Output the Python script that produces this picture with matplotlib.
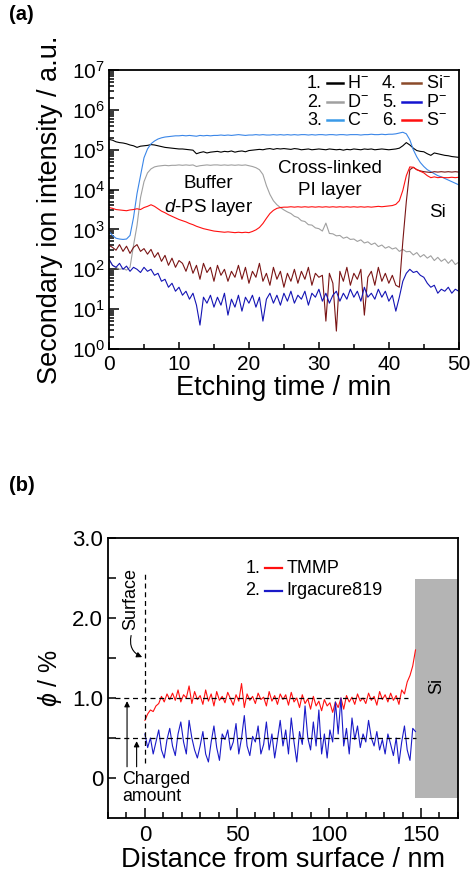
import matplotlib
matplotlib.use("Agg")
import matplotlib.pyplot as plt
from matplotlib.lines import Line2D
from matplotlib.ticker import FixedLocator, LogLocator, MultipleLocator, NullFormatter
import numpy as np

plt.rcParams["font.family"] = ["Liberation Sans", "DejaVu Sans"]
plt.rcParams["mathtext.fontset"] = "custom"
plt.rcParams["mathtext.rm"] = "Liberation Sans"
plt.rcParams["mathtext.it"] = "Liberation Sans:italic"

# ── (a) SIMS depth profile, log10(intensity) every 0.5 min ─────────────────────
etch_time = np.arange(0, 50.5, 0.5)

h_log = [5.26, 5.24, 5.20, 5.18, 5.17, 5.15, 5.12, 5.10, 5.06, 5.09, 5.10,
         5.11, 5.13, 5.12, 5.10, 5.08, 5.06, 5.05, 5.04, 5.03, 5.02,
         5.02, 5.01, 5.00, 4.99, 4.90, 4.93, 4.95, 4.92, 4.94, 4.95,
         4.96, 4.94, 4.96, 4.95, 4.97, 4.94, 4.96, 4.97, 4.95, 4.98,
         4.99, 5.00, 5.01, 5.00, 5.02, 5.03, 5.01, 5.03, 5.02, 5.03,
         5.02, 5.01, 5.03, 5.02, 5.00, 5.01, 5.02, 5.00, 5.01, 5.02,
         5.01, 5.00, 5.02, 5.01, 5.00, 5.01, 4.99, 5.01, 5.00, 5.02,
         5.01, 5.00, 5.02, 5.01, 5.02, 5.00, 5.01, 5.02, 5.01, 5.00,
         5.01, 5.02, 5.04, 5.10, 5.18, 5.12, 5.04, 4.98, 4.96, 4.95,
         4.90, 4.86, 4.92, 4.90, 4.88, 4.86, 4.85, 4.83, 4.82, 4.81]

d_log = [2.25, 2.10, 2.05, 2.00, 2.02, 1.98, 2.05, 2.60, 3.10, 3.80, 4.20,
         4.42, 4.52, 4.57, 4.59, 4.60, 4.61, 4.60, 4.61, 4.61, 4.62,
         4.61, 4.62, 4.61, 4.62, 4.58, 4.60, 4.61, 4.62, 4.61, 4.62,
         4.62, 4.61, 4.62, 4.61, 4.62, 4.61, 4.62, 4.61, 4.62, 4.60,
         4.58, 4.55, 4.50, 4.38, 4.10, 3.88, 3.72, 3.62, 3.55, 3.49,
         3.44, 3.40, 3.33, 3.30, 3.22, 3.20, 3.12, 3.11, 3.04, 3.02,
         2.96, 3.16, 2.90, 2.89, 2.84, 2.85, 2.78, 2.81, 2.75, 2.76,
         2.70, 2.74, 2.66, 2.69, 2.62, 2.66, 2.57, 2.61, 2.53, 2.57,
         2.51, 2.54, 2.45, 2.50, 2.44, 2.45, 2.36, 2.42, 2.31, 2.37,
         2.28, 2.34, 2.22, 2.30, 2.20, 2.26, 2.15, 2.24, 2.12, 2.18]

c_log = [2.95, 2.85, 2.78, 2.76, 2.75, 2.76, 2.85, 3.30, 3.90, 4.35, 4.80,
         5.02, 5.15, 5.22, 5.27, 5.30, 5.32, 5.33, 5.34, 5.35, 5.35,
         5.36, 5.35, 5.36, 5.35, 5.34, 5.36, 5.35, 5.36, 5.35, 5.36,
         5.36, 5.37, 5.36, 5.37, 5.36, 5.37, 5.38, 5.37, 5.36, 5.37,
         5.37, 5.38, 5.37, 5.38, 5.37, 5.37, 5.38, 5.37, 5.38, 5.37,
         5.38, 5.37, 5.38, 5.37, 5.38, 5.38, 5.37, 5.38, 5.37, 5.38,
         5.38, 5.37, 5.38, 5.38, 5.37, 5.38, 5.38, 5.37, 5.38, 5.38,
         5.38, 5.37, 5.38, 5.38, 5.39, 5.38, 5.38, 5.39, 5.38, 5.39,
         5.39, 5.40, 5.42, 5.44, 5.40, 5.25, 5.00, 4.82, 4.68, 4.58,
         4.50, 4.45, 4.40, 4.35, 4.32, 4.28, 4.24, 4.20, 4.16, 4.12]

si_log = [2.60, 2.55, 2.48, 2.62, 2.45, 2.58, 2.40, 2.55, 2.62, 2.45, 2.52,
          2.38, 2.50, 2.30, 2.42, 2.20, 2.35, 2.10, 2.28, 2.05, 2.22,
          2.15, 1.95, 2.20, 1.90, 2.10, 1.75, 2.15, 1.92, 2.05, 1.70,
          2.10, 1.85, 2.00, 1.70, 1.95, 1.80, 2.10, 1.75, 2.05, 1.65,
          1.95, 1.80, 2.15, 1.70, 1.90, 1.60, 2.05, 1.75, 1.95, 1.55,
          1.90, 1.70, 2.00, 1.65, 1.95, 1.75, 2.05, 1.60, 1.90, 1.80,
          1.85, 0.70, 1.90, 1.65, 0.45, 1.95, 1.70, 2.05, 1.60, 1.90,
          1.75, 2.00, 0.85, 1.80, 1.95, 1.60, 2.05, 1.70, 1.90, 1.65,
          1.85, 1.60, 1.55, 2.70, 3.70, 4.50, 4.56, 4.50, 4.47, 4.45,
          4.44, 4.43, 4.45, 4.44, 4.45, 4.44, 4.45, 4.44, 4.45, 4.44]

p_log = [2.25, 2.10, 2.05, 2.15, 2.00, 2.08, 1.95, 2.05, 2.00, 1.92, 2.05,
         1.95, 2.00, 1.85, 1.90, 1.70, 1.75, 1.55, 1.65, 1.45, 1.55,
         1.35, 1.45, 1.25, 1.40, 1.10, 0.60, 1.30, 1.15, 1.35, 1.05,
         1.30, 1.10, 1.40, 0.85, 1.25, 1.05, 1.35, 0.95, 1.30, 1.15,
         1.35, 1.05, 1.30, 0.70, 1.25, 1.40, 1.15, 1.35, 1.10, 1.40,
         1.20, 1.45, 1.15, 1.35, 1.25, 1.45, 1.10, 1.40, 1.30, 1.50,
         1.20, 1.40, 1.15, 1.35, 1.45, 1.20, 1.40, 1.25, 1.50, 1.30,
         1.45, 1.20, 1.55, 1.30, 1.40, 1.25, 1.50, 1.30, 1.45, 1.20,
         1.35, 0.95, 1.30, 1.70, 1.90, 2.00, 1.92, 1.95, 1.85, 1.80,
         1.65, 1.55, 1.60, 1.40, 1.50, 1.45, 1.55, 1.40, 1.50, 1.45]

s_log = [3.55, 3.53, 3.50, 3.49, 3.48, 3.47, 3.49, 3.50, 3.52, 3.50, 3.55,
         3.58, 3.62, 3.58, 3.52, 3.46, 3.42, 3.37, 3.33, 3.29, 3.25,
         3.22, 3.19, 3.15, 3.12, 3.08, 3.05, 3.02, 3.00, 2.98, 2.96,
         2.95, 2.94, 2.93, 2.94, 2.93, 2.92, 2.93, 2.92, 2.93, 2.92,
         2.95, 2.99, 3.05, 3.15, 3.28, 3.40, 3.48, 3.53, 3.55, 3.56,
         3.56, 3.57, 3.56, 3.57, 3.56, 3.57, 3.56, 3.57, 3.56, 3.57,
         3.56, 3.57, 3.56, 3.57, 3.56, 3.57, 3.56, 3.57, 3.56, 3.57,
         3.56, 3.57, 3.56, 3.57, 3.56, 3.57, 3.58, 3.57, 3.58, 3.59,
         3.60, 3.63, 3.72, 3.98, 4.35, 4.57, 4.56, 4.50, 4.46, 4.42,
         4.35, 4.30, 4.32, 4.30, 4.31, 4.30, 4.30, 4.31, 4.30, 4.31]

ions = ["H", "D", "C", "Si", "P", "S"]
ion_logs = [h_log, d_log, c_log, si_log, p_log, s_log]
ion_colors = ["black", "#a0a0a0", "#3a86e8", "#7a1515", "#1414b4", "#ff1010"]
legend_colors = ["black", "#a0a0a0", "#3a9ae8", "#8b4a2a", "#1414d0", "#ff1010"]

# ── (b) depth profile of photo-acid generators ────────────────────────────────
depth = np.arange(0, 148, 1.5)

tmmp = [0.72, 0.80, 0.85, 0.83, 0.90, 0.93, 1.02, 0.95, 1.05, 0.98,
        1.06, 0.97, 1.10, 0.95, 1.04, 1.00, 1.15, 0.93, 1.08, 0.98,
        1.03, 0.92, 1.10, 0.96, 1.05, 0.90, 1.08, 0.97, 1.02, 0.94,
        1.07, 0.99, 0.91, 1.04, 0.96, 1.18, 0.88, 1.05, 0.97, 1.02,
        0.93, 1.06, 0.98, 1.01, 0.90, 1.08, 0.96, 1.03, 0.92, 1.05,
        0.98, 1.04, 0.91, 1.07, 0.95, 1.00, 0.88, 1.04, 0.93, 0.99,
        0.86, 1.02, 0.90, 0.96, 0.84, 0.98, 0.90, 0.94, 0.82, 0.95,
        0.88, 1.00, 0.86, 1.03, 0.95, 1.01, 0.92, 1.05, 0.96, 1.00,
        0.93, 1.06, 0.97, 1.02, 0.91, 1.08, 0.98, 1.04, 0.95, 1.06,
        0.97, 1.03, 0.92, 1.10, 1.05, 1.20, 1.28, 1.40, 1.60]

irgacure = [0.55, 0.38, 0.50, 0.30, 0.45, 0.60, 0.35, 0.25, 0.48, 0.62,
            0.40, 0.28, 0.55, 0.70, 0.45, 0.30, 0.72, 0.50, 0.35, 0.25,
            0.40, 0.58, 0.30, 0.20, 0.45, 0.65, 0.38, 0.22, 0.55, 0.48,
            0.60, 0.35, 0.45, 0.68, 0.30, 0.50, 0.78, 0.40, 0.28, 0.52,
            0.45, 0.65, 0.30, 0.42, 0.70, 0.35, 0.55, 0.25, 0.48, 0.72,
            0.40, 0.60, 0.30, 0.75, 0.45, 0.20, 0.58, 0.42, 0.90, 0.50,
            0.35, 0.70, 0.40, 0.85, 0.30, 0.55, 0.25, 0.60, 0.45, 0.95,
            0.55, 1.00, 0.40, 0.62, 0.30, 0.75, 0.48, 0.65, 0.38, 0.55,
            0.45, 0.72, 0.50, 0.40, 0.58, 0.35, 0.48, 0.30, 0.55, 0.42,
            0.28, 0.50, 0.18, 0.45, 0.65, 0.35, 0.22, 0.62, 0.58]

si_region = (146.6, 170, -0.25, 2.48)   # x0, x1, y0, y1
charged_levels = [1.0, 0.5]


fig = plt.figure(figsize=(4.72, 8.76), dpi=100)

# ── panel (a) ────────────────────────────────────────────────────────────────
ax = fig.add_axes([0.231, 0.6016, 0.741, 0.3184])
for vals, col in zip(ion_logs, ion_colors):
    ax.plot(etch_time, 10 ** np.asarray(vals), color=col, lw=0.8)
ax.set_yscale("log")
ax.set_xlim(0, 50)
ax.set_ylim(1, 1e7)
ax.xaxis.set_major_locator(MultipleLocator(10))
ax.xaxis.set_minor_locator(MultipleLocator(5))
ax.yaxis.set_major_locator(LogLocator(base=10, numticks=10))
ax.yaxis.set_minor_locator(LogLocator(base=10, subs=np.arange(2, 10), numticks=10))
ax.yaxis.set_minor_formatter(NullFormatter())
ax.tick_params(which="both", direction="in", labelsize=15, width=1.1)
ax.tick_params(which="major", length=7, pad=3)
ax.tick_params(which="minor", length=3.5)
ax.tick_params(axis="x", which="major", length=5, pad=4)
for s in ax.spines.values():
    s.set_linewidth(1.3)
ax.set_xlabel("Etching time / min", fontsize=19.5, labelpad=1)
ax.set_ylabel("Secondary ion intensity / a.u.", fontsize=19.5, labelpad=6)

# legend in two columns: "n. —— X⁻"
col_x = [0.566, 0.780]
row_y = [0.953, 0.885, 0.820]
for i, (ion, col) in enumerate(zip(ions, legend_colors)):
    cx = col_x[i // 3]
    cy = row_y[i % 3]
    ax.text(cx, cy, f"{i + 1}.", transform=ax.transAxes, fontsize=13,
            ha="left", va="center")
    ax.add_line(Line2D([cx + 0.058, cx + 0.103 + 0.01 * (i // 3)], [cy, cy],
                       color=col, lw=1.8, transform=ax.transAxes))
    ax.text(cx + 0.115 + 0.01 * (i // 3), cy, ion + "$^{-}$",
            transform=ax.transAxes, fontsize=13, ha="left", va="center")

ax.text(14.2, 10 ** 4.16, "Buffer", fontsize=13.5, ha="center", va="center")
ax.text(14.2, 10 ** 3.56, "$d$-PS layer", fontsize=13.5, ha="center", va="center")
ax.text(31.6, 10 ** 4.54, "Cross-linked", fontsize=13.5, ha="center", va="center")
ax.text(31.6, 10 ** 3.99, "PI layer", fontsize=13.5, ha="center", va="center")
ax.text(47.0, 10 ** 3.43, "Si", fontsize=13.5, ha="center", va="center")
fig.text(0.020, 0.983, "(a)", fontsize=14.5, fontweight="bold", ha="left", va="center")

# ── panel (b) ────────────────────────────────────────────────────────────────
bx = fig.add_axes([0.229, 0.0662, 0.741, 0.3198])
x0, x1, y0, y1 = si_region
bx.fill_between([x0, x1], y0, y1, color="#b4b4b4", lw=0, zorder=1)
bx.text((x0 + x1) / 2, 1.15, "Si", rotation=90, fontsize=13,
        ha="center", va="center")
bx.plot(depth, tmmp, color="#ff1010", lw=0.8, zorder=3)
bx.plot(depth, irgacure, color="#1a1ac8", lw=0.8, zorder=3)

bx.plot([-16, 143], [charged_levels[0]] * 2, color="black", lw=0.9,
        ls=(0, (4, 3)), zorder=4)
bx.plot([-16, 147], [charged_levels[1]] * 2, color="black", lw=0.9,
        ls=(0, (4, 3)), zorder=4)
bx.plot([0, 0], [0.19, 2.58], color="black", lw=0.9, ls=(0, (4, 3)), zorder=4)

for xa, lev in zip([-9.7, -4.5], charged_levels):
    bx.annotate("", xy=(xa, lev - 0.04), xytext=(xa, 0.14),
                arrowprops=dict(arrowstyle="-|>", color="black", lw=0.8,
                                mutation_scale=8, shrinkA=0, shrinkB=0))
bx.annotate("", xy=(-1.5, 1.51), xytext=(-7.5, 1.78),
            arrowprops=dict(arrowstyle="-|>", color="black", lw=0.8,
                            mutation_scale=8, shrinkA=0, shrinkB=0,
                            connectionstyle="arc3,rad=0.4"))
bx.text(-7.5, 2.24, "Surface", rotation=90, fontsize=13,
        ha="center", va="center")
bx.text(-12.3, 0.09, "Charged\namount", fontsize=12.8, ha="left", va="top",
        linespacing=1.0)

leg_rows = [("1.", "TMMP", "#ff1010", 2.62), ("2.", "Irgacure819", "#1a1ac8", 2.34)]
for num, name, col, yy in leg_rows:
    bx.text(54.5, yy, num, fontsize=13, ha="left", va="center")
    bx.plot([65.0, 74.5], [yy, yy], color=col, lw=1.6)
    bx.text(77.0, yy, name, fontsize=13, ha="left", va="center")

bx.set_xlim(-20, 170)
bx.set_ylim(-0.5, 3.0)
bx.xaxis.set_major_locator(FixedLocator([0, 50, 100, 150]))
bx.xaxis.set_minor_locator(MultipleLocator(10))
bx.yaxis.set_major_locator(FixedLocator([0, 1, 2, 3]))
bx.yaxis.set_minor_locator(FixedLocator([0.5, 1.5, 2.5]))
bx.set_yticklabels(["0", "1.0", "2.0", "3.0"])
bx.tick_params(which="both", direction="in", labelsize=16, width=1.1)
bx.tick_params(axis="y", which="both", length=6)
bx.tick_params(axis="x", which="major", length=7, pad=5)
bx.tick_params(axis="x", which="minor", length=4)
for s in bx.spines.values():
    s.set_linewidth(1.3)
bx.set_xlabel("Distance from surface / nm", fontsize=19.5, labelpad=1)
bx.set_ylabel("$\\phi$ / %", fontsize=18, labelpad=6)
fig.text(0.020, 0.446, "(b)", fontsize=14.5, fontweight="bold", ha="left", va="center")

fig.savefig("out.png", dpi=100)
